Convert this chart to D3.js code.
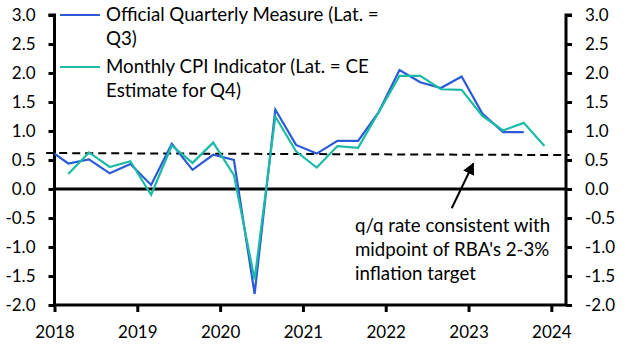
<!DOCTYPE html>
<html>
<head>
<meta charset="utf-8">
<script src="https://cdn.jsdelivr.net/npm/d3@7"></script>
<style>
  html, body { margin: 0; padding: 0; background: #fff; }
  svg text { font-family: Lato, "Open Sans", sans-serif; fill: #000; }
</style>
</head>
<body>
<svg id="chart" width="630" height="355"></svg>
<script>
// ---- data ----
// Official quarterly CPI (q/q %), Q4 2017 .. Q3 2023
const officialQuarters = ["2017Q4",
  "2018Q1","2018Q2","2018Q3","2018Q4",
  "2019Q1","2019Q2","2019Q3","2019Q4",
  "2020Q1","2020Q2","2020Q3","2020Q4",
  "2021Q1","2021Q2","2021Q3","2021Q4",
  "2022Q1","2022Q2","2022Q3","2022Q4",
  "2023Q1","2023Q2","2023Q3"];
const officialValues = [0.69,
  0.44, 0.51, 0.27, 0.43,
  0.07, 0.78, 0.33, 0.59,
  0.50, -1.81, 1.37, 0.76,
  0.61, 0.83, 0.83, 1.33,
  2.05, 1.84, 1.74, 1.94,
  1.30, 0.98, 0.98];
// Monthly CPI indicator (q/q %), Q1 2018 .. Q4 2023
const monthlyQuarters = [
  "2018Q1","2018Q2","2018Q3","2018Q4",
  "2019Q1","2019Q2","2019Q3","2019Q4",
  "2020Q1","2020Q2","2020Q3","2020Q4",
  "2021Q1","2021Q2","2021Q3","2021Q4",
  "2022Q1","2022Q2","2022Q3","2022Q4",
  "2023Q1","2023Q2","2023Q3","2023Q4"];
const monthlyValues = [
  0.26, 0.63, 0.38, 0.48,
  -0.10, 0.75, 0.45, 0.80,
  0.24, -1.56, 1.25, 0.65,
  0.37, 0.74, 0.71, 1.33,
  1.95, 1.95, 1.72, 1.71,
  1.26, 1.01, 1.14, 0.74];
// RBA target-consistent q/q rate (reference line end points)
const targetLineX = [2017.9, 2024.22];
const targetLineY = [0.62, 0.585];
const seriesNames = ["Official Quarterly Measure (Lat. =", "Q3)"];
const seriesNames2 = ["Monthly CPI Indicator (Lat. = CE", "Estimate for Q4)"];
const annotationLines = ["q/q rate consistent with", "midpoint of RBA's 2-3%", "inflation target"];
const yTicks = [3.0, 2.5, 2.0, 1.5, 1.0, 0.5, 0.0, -0.5, -1.0, -1.5, -2.0];
const xTicks = [2018, 2019, 2020, 2021, 2022, 2023, 2024];

// ---- layout ----
const svg = d3.select("#chart");
const L = 54.5, R = 566, T = 15, B = 305;
const x = d3.scaleLinear().domain([2018, 2024.177]).range([L, R]);
const y = d3.scaleLinear().domain([-2, 3]).range([B, T]);
const qToX = q => +q.slice(0, 4) + (+q.slice(5) * 3 - 1) / 12;

const blue = "#2a5bd4", teal = "#1dbba7";
const fmt = d => d.toFixed(1);

// clip
svg.append("clipPath").attr("id", "clip")
  .append("rect").attr("x", L).attr("y", 0).attr("width", R - L).attr("height", 355);

// axes
const gL = svg.append("g").attr("transform", `translate(${L},0)`)
  .call(d3.axisLeft(y).tickValues(yTicks).tickFormat(fmt).tickSize(6).tickPadding(13));
const gR = svg.append("g").attr("transform", `translate(${R},0)`)
  .call(d3.axisRight(y).tickValues(yTicks).tickFormat(fmt).tickSize(6).tickPadding(13));
const gB = svg.append("g").attr("transform", `translate(0,${B})`)
  .call(d3.axisBottom(x).tickValues(xTicks).tickFormat(d3.format("d")).tickSize(7).tickPadding(14));
[gL, gR, gB].forEach(g => {
  g.select(".domain").attr("stroke", "#000").attr("stroke-width", 3);
  g.selectAll(".tick line").attr("stroke", "#000").attr("stroke-width", 3);
  g.selectAll(".tick text").style("font-size", "17px").attr("fill", "#000");
  g.attr("font-family", null);
});
gL.select(".domain").attr("d", `M-6,${T}H0V${B}`);
gR.select(".domain").attr("d", `M6,${T}H0V${B}`);
gB.select(".domain").attr("d", `M${L},0H${R}`);

// zero line
svg.append("line").attr("x1", L).attr("x2", R).attr("y1", y(0)).attr("y2", y(0))
  .attr("stroke", "#000").attr("stroke-width", 3);

// dashed target line
svg.append("line")
  .attr("x1", x(targetLineX[0])).attr("x2", x(targetLineX[1]))
  .attr("y1", y(targetLineY[0])).attr("y2", y(targetLineY[1]))
  .attr("stroke", "#000").attr("stroke-width", 2).attr("stroke-dasharray", "8,5");

// series
const line = d3.line().x(d => x(d[0])).y(d => y(d[1]));
const offData = officialQuarters.map((q, i) => [qToX(q), officialValues[i]]);
const monData = monthlyQuarters.map((q, i) => [qToX(q), monthlyValues[i]]);
svg.append("path").datum(offData).attr("clip-path", "url(#clip)")
  .attr("d", line).attr("fill", "none").attr("stroke", blue).attr("stroke-width", 2.2)
  .attr("stroke-linejoin", "miter");
svg.append("path").datum(monData).attr("clip-path", "url(#clip)")
  .attr("d", line).attr("fill", "none").attr("stroke", teal).attr("stroke-width", 2.2)
  .attr("stroke-linejoin", "miter");

// legend
const leg = svg.append("g");
[[blue, 15, seriesNames, 21], [teal, 67, seriesNames2, 73]].forEach(([c, ly, names, by]) => {
  leg.append("line").attr("x1", 60).attr("x2", 100).attr("y1", ly).attr("y2", ly)
    .attr("stroke", c).attr("stroke-width", 2.2);
  names.forEach((t, i) => {
    leg.append("text").attr("x", 106).attr("y", by + i * 24).text(t).style("font-size", "18.7px");
  });
});

// annotation
annotationLines.forEach((t, i) => {
  svg.append("text").attr("x", 355).attr("y", 232 + i * 24).text(t).style("font-size", "18.7px");
});
// arrow
svg.append("defs").append("marker").attr("id", "arr")
  .attr("viewBox", "0 0 10 10").attr("refX", 9).attr("refY", 5)
  .attr("markerWidth", 6).attr("markerHeight", 6).attr("orient", "auto")
  .attr("markerUnits", "strokeWidth")
  .append("path").attr("d", "M0,0L10,5L0,10Z").attr("fill", "#000");
svg.append("line").attr("x1", 451.7).attr("y1", 208.3).attr("x2", 473.3).attr("y2", 163.5)
  .attr("stroke", "#000").attr("stroke-width", 2).attr("marker-end", "url(#arr)");
</script>
</body>
</html>
